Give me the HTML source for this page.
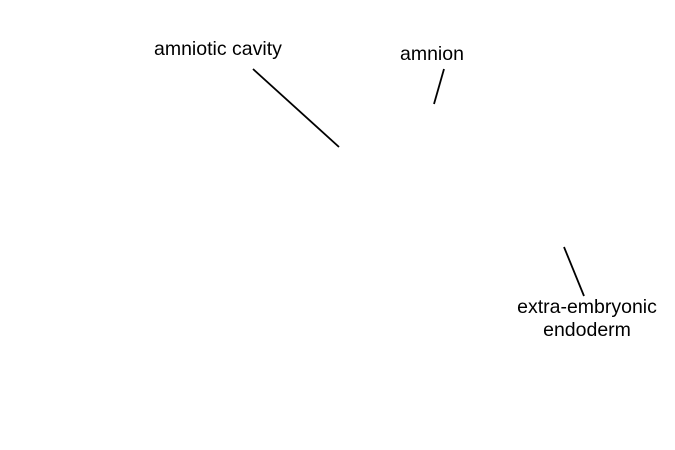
<!DOCTYPE html>
<html><head><style>
body{margin:0;width:675px;height:450px;background:#fff;position:relative;overflow:hidden;font-family:"Liberation Sans",Arial,sans-serif;}
.t{position:absolute;font-size:19.5px;color:#000;line-height:23px;text-align:center;white-space:nowrap;}
</style></head><body>
<div class="t" style="left:154px;top:38px;">amniotic cavity</div>
<div class="t" style="left:400px;top:43px;">amnion</div>
<div class="t" style="left:487px;top:296px;width:200px;">extra-embryonic<br>endoderm</div>
<svg width="675" height="450" style="position:absolute;left:0;top:0">
<line x1="253" y1="69" x2="339" y2="147" stroke="#000" stroke-width="1.8"/>
<line x1="444" y1="69" x2="434" y2="104" stroke="#000" stroke-width="1.8"/>
<line x1="564" y1="247" x2="584" y2="296" stroke="#000" stroke-width="1.8"/>
</svg>
</body></html>
